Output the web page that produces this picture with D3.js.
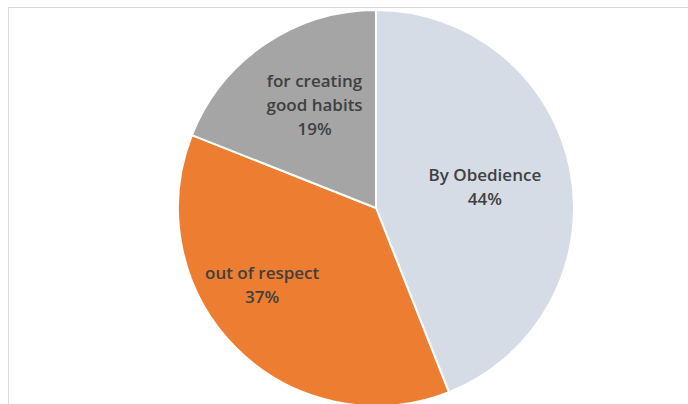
<!DOCTYPE html>
<html>
<head>
<meta charset="utf-8">
<script src="https://cdn.jsdelivr.net/npm/d3@7"></script>
<style>
  body { margin: 0; background: #fff; }
  svg { display: block; }
</style>
</head>
<body>
<script>
// data
var categories = ["By Obedience", "out of respect", "for creating good habits"];
var labelLines = [["By Obedience"], ["out of respect"], ["for creating", "good habits"]];
var values = [44, 37, 19];
var colors = ["#D6DCE5", "#ED7D31", "#A5A5A5"];

var w = 688;
var h = 404;
var cx = 376;
var cy = 208;
var radius = 198;
var labelRadius = 120;
// small per-slice nudges so the labels sit where the original placed them
var labelNudge = [[-9, 2], [-29, -8], [6, -4]];

var svg = d3.select("body")
  .append("svg")
  .attr("width", w)
  .attr("height", h);

// chart area border
svg.append("rect")
  .attr("x", 8.5)
  .attr("y", 7.5)
  .attr("width", w + 20)
  .attr("height", h + 20)
  .attr("fill", "#fff")
  .attr("stroke", "#d9d9d9");

var data = categories.map(function (c, i) {
  return { name: c, value: values[i], lines: labelLines[i], color: colors[i], nudge: labelNudge[i] };
});

var pie = d3.pie()
  .sort(null)
  .value(function (d) { return d.value; });

var arc = d3.arc()
  .innerRadius(0)
  .outerRadius(radius);

var labelArc = d3.arc()
  .innerRadius(labelRadius)
  .outerRadius(labelRadius);

var g = svg.append("g")
  .attr("transform", "translate(" + cx + "," + cy + ")");

var arcs = pie(data);

g.selectAll("path")
  .data(arcs)
  .enter()
  .append("path")
  .attr("d", arc)
  .attr("fill", function (d) { return d.data.color; })
  .attr("stroke", "#fff")
  .attr("stroke-width", 2)
  .attr("stroke-linejoin", "round");

var lineH = 24;

var labels = g.selectAll("text.lbl")
  .data(arcs)
  .enter()
  .append("text")
  .attr("class", "lbl")
  .attr("text-anchor", "middle")
  .attr("font-family", "'Open Sans', sans-serif")
  .attr("font-weight", 600)
  .attr("font-size", 17)
  .attr("fill", "#404040")
  .attr("transform", function (d) {
    var c = labelArc.centroid(d);
    return "translate(" + (c[0] + d.data.nudge[0]) + "," + (c[1] + d.data.nudge[1]) + ")";
  });

labels.each(function (d) {
  var t = d3.select(this);
  var lines = d.data.lines.concat([d.data.value + "%"]);
  var top = -(lines.length - 1) * lineH / 2;
  lines.forEach(function (s, i) {
    t.append("tspan")
      .attr("x", 0)
      .attr("y", top + i * lineH)
      .attr("dy", "0.35em")
      .text(s);
  });
});
</script>
</body>
</html>
